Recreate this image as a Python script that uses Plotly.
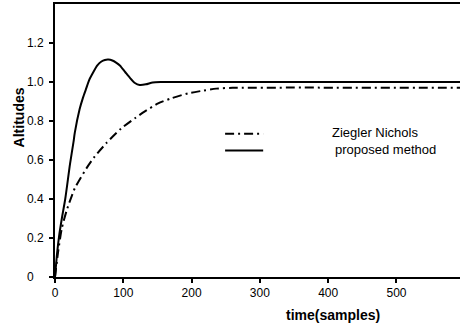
import plotly.graph_objects as go

# Proposed method response
t_prop = [0, 3, 6, 10, 15, 22, 27, 29, 36, 41, 45, 50, 56, 62, 68, 73, 78, 84, 90, 95, 103, 110, 117, 124, 133, 143, 155, 170, 600]
v_prop = [0, 0.12, 0.21, 0.30, 0.40, 0.58, 0.69, 0.74, 0.86, 0.92, 0.96, 1.01, 1.05, 1.085, 1.105, 1.113, 1.115, 1.11, 1.098, 1.085, 1.05, 1.02, 0.995, 0.985, 0.988, 0.998, 1.0, 1.0, 1.0]

# Ziegler Nichols response
t_zn = [0, 5, 10, 17, 29, 46, 58, 75, 97, 117, 131, 151, 170, 195, 214, 236, 260, 600]
v_zn = [0, 0.14, 0.25, 0.34, 0.455, 0.557, 0.617, 0.686, 0.762, 0.814, 0.848, 0.89, 0.916, 0.942, 0.954, 0.966, 0.97, 0.97]

x_ticks = [0, 100, 200, 300, 400, 500]
y_ticks = [0, 0.2, 0.4, 0.6, 0.8, 1.0, 1.2]
y_tick_text = ["0\u00a0\u00a0\u00a0", "0.2", "0.4", "0.6", "0.8", "1.0", "1.2"]

FONT = "Liberation Sans, Arial, sans-serif"

fig = go.Figure()
fig.add_trace(go.Scatter(x=t_zn, y=v_zn, mode="lines", name="Ziegler Nichols",
                         line=dict(color="black", width=2, dash="9px,4px,2px,4px", shape="spline", smoothing=0.6)))
fig.add_trace(go.Scatter(x=t_prop, y=v_prop, mode="lines", name="proposed method",
                         line=dict(color="black", width=2, shape="spline", smoothing=0.6)))

fig.update_layout(
    width=460, height=328,
    margin=dict(l=55, r=0, t=4, b=51, autoexpand=False),
    paper_bgcolor="white", plot_bgcolor="white",
    showlegend=False,
    font=dict(family=FONT, color="black", size=12),
    xaxis=dict(range=[0, 593], tickvals=x_ticks, ticks="outside", ticklen=4, tickwidth=1.5,
               tickcolor="black", showline=True, linecolor="black", linewidth=2, mirror=True,
               showgrid=False, zeroline=False, automargin=False, tickfont=dict(size=12, family=FONT)),
    yaxis=dict(range=[0, 1.4], tickvals=y_ticks, ticktext=y_tick_text, ticks="outside", ticklen=4,
               tickwidth=1.5, tickcolor="black", showline=True, linecolor="black", linewidth=2,
               showgrid=False, zeroline=False, automargin=False, tickfont=dict(size=12, family=FONT),
               ticklabelstandoff=3),
)

# axis titles placed as in reference
fig.add_annotation(text="<b>time(samples)</b>", xref="paper", yref="paper", x=0.686, y=-0.14,
                   xanchor="center", yanchor="middle", showarrow=False,
                   font=dict(size=14, family=FONT, color="black"))
fig.add_annotation(text="<b>Altitudes</b>", xref="paper", yref="paper", x=-0.088, y=0.586,
                   xanchor="center", yanchor="middle", showarrow=False, textangle=-90,
                   font=dict(size=14, family=FONT, color="black"))

# Manual legend
fig.add_shape(type="line", xref="paper", yref="paper", x0=0.42, x1=0.514, y0=0.525, y1=0.525,
              line=dict(color="black", width=2, dash="9px,4px,2px,4px"))
fig.add_shape(type="line", xref="paper", yref="paper", x0=0.42, x1=0.514, y0=0.463, y1=0.463,
              line=dict(color="black", width=2))
fig.add_annotation(text="Ziegler Nichols", xref="paper", yref="paper", x=0.679, y=0.528,
                   xanchor="left", yanchor="middle", showarrow=False,
                   font=dict(size=13, family=FONT, color="black"))
fig.add_annotation(text="proposed method", xref="paper", yref="paper", x=0.686, y=0.466,
                   xanchor="left", yanchor="middle", showarrow=False,
                   font=dict(size=13, family=FONT, color="black"))

fig.write_html("out.html", config={"displayModeBar": False},
               post_script="document.body.style.margin='0';document.body.style.padding='0';")
